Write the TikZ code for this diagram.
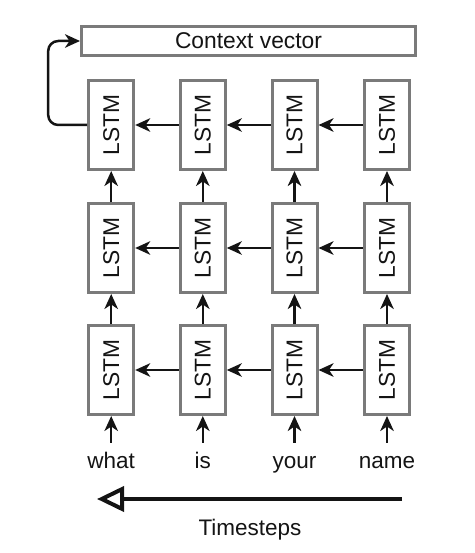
\documentclass[tikz,border=0pt]{standalone}
\usepackage{fontspec}
\setmainfont{Liberation Sans}
\usepackage{graphicx}
\usetikzlibrary{arrows.meta}
\definecolor{boxgray}{HTML}{7A7A7A}
\definecolor{ink}{HTML}{141414}
\begin{document}
\begin{tikzpicture}[x=1pt,y=-1pt,
  lstmbox/.style={draw=boxgray, line width=3pt, minimum width=45pt, minimum height=89pt, inner sep=0pt, fill=white, text=ink, font=\fontsize{22.8}{26}\selectfont},
  ctxbox/.style={draw=boxgray, line width=3pt, minimum width=334pt, minimum height=28.5pt, inner sep=0pt, fill=white, text=ink, font=\fontsize{22.8}{26}\selectfont},
  word/.style={inner sep=0pt, anchor=base, text height=16pt, text depth=5pt, text=ink, font=\fontsize{22.5}{26}\selectfont},
  conn/.style={draw=ink, line width=2.5pt, -{Stealth[length=15pt,width=13.5pt,inset=4.5pt]}},
  timearrow/.style={draw=ink, line width=4.5pt, -{Triangle[open,length=27pt,width=25pt,line width=4pt]}}
]
\useasboundingbox (0,0) rectangle (474,553);

\node[ctxbox] (ctx) at (248.5,41) {Context vector};

% LSTM grid: b<row><col>
\foreach \c/\x in {1/111.2,2/202.8,3/294.5,4/387}{
  \foreach \r/\y in {1/125,2/248,3/370}{
    \node[lstmbox] (b\r\c) at (\x,\y) {\rotatebox{90}{LSTM}};
  }
}

% words
\node[word] (w1) at (111.2,468) {what};
\node[word] (w2) at (202.8,468) {is};
\node[word] (w3) at (294.5,468) {your};
\node[word] (w4) at (387,468) {name};

% inputs
\foreach \c in {1,2,3,4}{
  \draw[conn, shorten <=9pt] (w\c.north) -- (b3\c.south);
  \draw[conn] (b3\c.north) -- (b2\c.south);
  \draw[conn] (b2\c.north) -- (b1\c.south);
}

% recurrent (right to left)
\foreach \r in {1,2,3}{
  \draw[conn] (b\r4.west) -- (b\r3.east);
  \draw[conn] (b\r3.west) -- (b\r2.east);
  \draw[conn] (b\r2.west) -- (b\r1.east);
}

% feedback to context vector
\draw[conn, rounded corners=10pt] (b11.west) -- ++(-39,0) |- (ctx.west);

% timesteps
\coordinate (tsstart) at (402,499);
\coordinate (tsend) at (97,499);
\draw[timearrow] (tsstart) -- (tsend);
\node[word, anchor=center, text height=, text depth=] (ts) at (250,530) {Timesteps};
\end{tikzpicture}
\end{document}
